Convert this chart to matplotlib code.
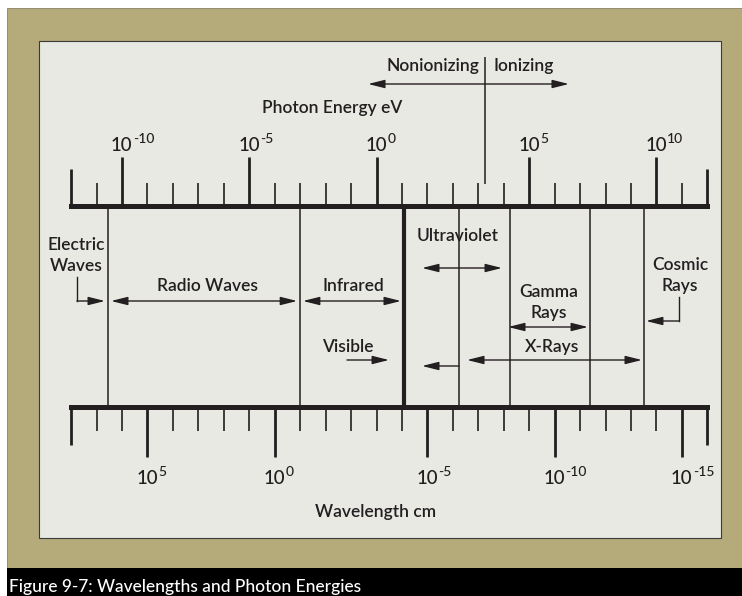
import matplotlib
matplotlib.use('Agg')
import matplotlib.pyplot as plt
from matplotlib.patches import Rectangle

plt.rcParams['font.family'] = ['Lato', 'DejaVu Sans']
plt.rcParams['font.weight'] = 'semibold'

ink = '#231f20'
tan = '#b5aa7a'
panel = '#e9e9e4'

# scale positions are in "tick steps" (one minor tick = one step)
tick_steps = list(range(-2, 24))
end_steps = [-2, 23]
top_major_steps = [0, 5, 10, 16, 21]
top_major_exp = ['-10', '-5', '0', '5', '10']
bottom_major_steps = [1, 6, 12, 17, 22]
bottom_major_exp = ['5', '0', '-5', '-10', '-15']

# boundaries between the regions of the spectrum
band_edges = [-0.55, 7.0, 11.1, 13.25, 15.25, 18.4, 20.5]
band_widths = [1.1, 1.1, 3.0, 1.1, 1.1, 1.1, 1.1]
ion_edge = 14.26

# arrows: (start, end, y, style)
arrows = [
    (-0.43, 6.88, 301, '<|-|>'),    # radio waves
    (7.11, 10.96, 301, '<|-|>'),    # infrared
    (8.84, 10.49, 360, '-|>'),      # visible
    (11.79, 14.93, 268, '<|-|>'),   # ultraviolet
    (13.24, 11.79, 366, '-|>'),     # ultraviolet (lower)
    (15.17, 18.31, 327, '<|-|>'),   # gamma rays
    (13.56, 20.43, 360, '<|-|>'),   # x-rays
    (9.67, 17.56, 84, '<|-|>'),     # nonionizing / ionizing
]
# bent arrows: (x of drop, top y, corner y, tip x)
bent_arrows = [
    (-1.77, 277, 301, -0.67),   # electric waves
    (21.89, 297, 321, 20.59),   # cosmic rays
]

# labels: (text, x, baseline y, align)
labels = [
    ('Photon Energy eV', 5.5, 113, 'left'),
    ('Nonionizing', 14.03, 71, 'right'),
    ('Ionizing', 14.58, 71, 'left'),
    ('Electric', -1.81, 250, 'center'),
    ('Waves', -1.81, 271, 'center'),
    ('Radio Waves', 3.34, 291, 'center'),
    ('Infrared', 9.08, 291, 'center'),
    ('Visible', 8.88, 352, 'center'),
    ('Ultraviolet', 13.2, 241, 'center'),
    ('Gamma', 16.78, 297, 'center'),
    ('Rays', 16.78, 318, 'center'),
    ('X-Rays', 16.9, 352, 'center'),
    ('Cosmic', 21.93, 270, 'center'),
    ('Rays', 21.93, 291, 'center'),
    ('Wavelength cm', 9.98, 517, 'center'),
]
caption = 'Figure 9-7: Wavelengths and Photon Energies'

W, H = 742, 596
fig = plt.figure(figsize=(W / 100, H / 100), dpi=100)
fig.patch.set_facecolor('white')

# background frame in pixel coordinates
bg = fig.add_axes([0, 0, 1, 1])
bg.set_xlim(0, W)
bg.set_ylim(H, 0)
bg.axis('off')
bg.add_patch(Rectangle((7, 8), W - 7, 560, facecolor=tan, edgecolor='#8a8260', lw=0.6))
bg.add_patch(Rectangle((39, 41), 682, 497, facecolor=panel, edgecolor='#3a3a3a', lw=0.8))
bg.add_patch(Rectangle((7, 568), W - 7, H - 568, facecolor='black', edgecolor='none'))
bg.text(9, 592, caption, color='white', fontsize=12.5, fontweight='medium',
        ha='left', va='baseline')

# chart axes: x in tick steps, y in pixels
step = 25.45
x0 = 122
ax = fig.add_axes([0, 0, 1, 1])
ax.patch.set_alpha(0)
ax.set_xlim(-x0 / step, (W - x0) / step)
ax.set_ylim(H, 0)
ax.axis('off')

top_y = 206
bot_y = 407

# main scale bars
ax.plot([tick_steps[0], tick_steps[-1]], [top_y, top_y], color=ink, lw=3.6,
        solid_capstyle='projecting')
ax.plot([tick_steps[0], tick_steps[-1]], [bot_y, bot_y], color=ink, lw=3.6,
        solid_capstyle='projecting')

for k in tick_steps:
    if k in end_steps:
        ln_top, ln_bot, lw = 37, 38, 2.0
    else:
        ln_top, ln_bot, lw = 23, 24, 1.2
    if k in top_major_steps:
        ax.vlines(k, top_y - 49, top_y, color=ink, lw=2.0)
    else:
        ax.vlines(k, top_y - ln_top, top_y, color=ink, lw=lw)
    if k in bottom_major_steps:
        ax.vlines(k, bot_y, bot_y + 50, color=ink, lw=2.0)
    else:
        ax.vlines(k, bot_y, bot_y + ln_bot, color=ink, lw=lw)


def power_label(k, base_y, exp):
    t = ax.text(k - 0.43, base_y, '10', fontsize=13.5, fontweight='medium',
                ha='left', va='baseline', color=ink)
    ax.annotate(exp, xy=(1.0, 1.0), xycoords=t, xytext=(0.1, 3.0),
                textcoords='offset points', fontsize=10, fontweight='medium',
                ha='left', va='top', color=ink)


for k, e in zip(top_major_steps, top_major_exp):
    power_label(k, 151, e)
for k, e in zip(bottom_major_steps, bottom_major_exp):
    power_label(k, 484, e)

# region boundaries
for xb, lw in zip(band_edges, band_widths):
    ax.vlines(xb, top_y, bot_y, color=ink, lw=lw)
ax.vlines(ion_edge, 57, 184, color=ink, lw=1.1)

head = ',head_length=1.0,head_width=0.25'
for xa, xb, y, style in arrows:
    ax.annotate('', xy=(xb, y), xytext=(xa, y),
                arrowprops=dict(arrowstyle=style + head, color=ink, lw=1.0,
                                shrinkA=0, shrinkB=0, mutation_scale=10))
for xd, ytop, ycorner, xtip in bent_arrows:
    ax.plot([xd, xd], [ytop, ycorner], color=ink, lw=1.0)
    ax.annotate('', xy=(xtip, ycorner), xytext=(xd, ycorner),
                arrowprops=dict(arrowstyle='-|>' + head, color=ink, lw=1.0,
                                shrinkA=0, shrinkB=0, mutation_scale=10))

for txt, x, y, ha in labels:
    ax.text(x, y, txt, fontsize=12.5, ha=ha, va='baseline', color=ink)

fig.savefig('out.png', dpi=100)
